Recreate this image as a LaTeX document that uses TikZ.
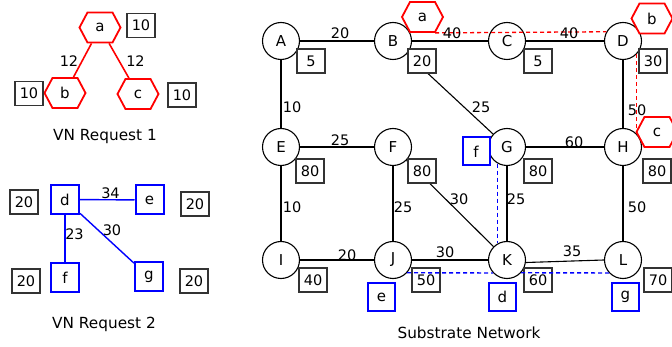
\documentclass[tikz,border=0pt]{standalone}
\usepackage{fontspec}
\setmainfont{DejaVu Sans}
\usetikzlibrary{shapes.symbols}
\begin{document}
\begin{tikzpicture}[x=1pt,y=-1pt,
  lbl/.style={inner sep=0pt, font=\fontsize{14.5}{17}\selectfont},
  ttl/.style={inner sep=0pt, anchor=base, font=\fontsize{15.3}{18}\selectfont},
  snode/.style={circle, draw, line width=1.1pt, fill=white, minimum size=37pt, inner sep=0pt, font=\fontsize{15}{17}\selectfont},
  wbox/.style={draw=black!80, line width=1.4pt, fill=white, minimum width=28pt, minimum height=24pt, inner sep=0pt, font=\fontsize{14.5}{17}\selectfont},
  vhex/.style={signal, signal to=west and east, signal pointer angle=124, draw=red, line width=1.8pt, fill=white, minimum width=41pt, minimum height=30pt, inner sep=0pt, font=\fontsize{15}{17}\selectfont},
  vbox/.style={draw=blue, line width=2pt, fill=white, minimum width=28pt, minimum height=29pt, inner sep=0pt, font=\fontsize{15}{17}\selectfont},
  sbox/.style={vbox, minimum width=27pt, minimum height=28pt},
  link/.style={line width=1.1pt},
  rlink/.style={draw=red, line width=1.6pt},
  blink/.style={draw=blue, line width=1.4pt},
  rmap/.style={draw=red, line width=1.3pt, dash pattern=on 4pt off 3pt},
  bmap/.style={draw=blue, line width=1.4pt, dash pattern=on 4pt off 3pt}
]
\useasboundingbox[fill=white] (0,0) rectangle (672,347);

% ---------- VN Request 1 ----------
\node[vhex] (ha) at (100,27.5) {a};
\node[vhex] (hb) at (65,93) {b};
\node[vhex] (hc) at (138,94) {c};
\draw[rlink] (ha) -- (hb);
\draw[rlink] (ha) -- (hc);
\node[wbox] (wa) at (141,25.5) {10};
\node[wbox] (wb) at (29,93.5) {10};
\node[wbox] (wc) at (182,95) {10};
\node[lbl] (lab) at (69,61) {12};
\node[lbl] (lac) at (135.5,61) {12};
\node[ttl] (t1) at (105,141) {VN Request 1};

% ---------- VN Request 2 ----------
\node[vbox] (vd) at (65,199.5) {d};
\node[vbox] (ve) at (149.5,200) {e};
\node[vbox] (vf) at (65,278) {f};
\node[vbox] (vg) at (149,277) {g};
\draw[blink] (vd) -- (ve);
\draw[blink] (vd) -- (vf);
\draw[blink] (vd) -- (vg);
\node[wbox] (wd) at (24,202) {20};
\node[wbox] (we) at (195,204) {20};
\node[wbox] (wf) at (26,281) {20};
\node[wbox] (wg) at (194,281) {20};
\node[lbl] (lde) at (110.5,193) {34};
\node[lbl] (ldf) at (74.5,234.5) {23};
\node[lbl] (ldg) at (112,230) {30};
\node[ttl] (t2) at (104,329) {VN Request 2};

% ---------- Substrate network ----------
\node[snode] (A) at (281,41) {A};
\node[snode] (B) at (393,41) {B};
\node[snode] (C) at (507,41) {C};
\node[snode] (D) at (623,41) {D};
\node[snode] (E) at (281,147) {E};
\node[snode] (F) at (393,147) {F};
\node[snode] (G) at (507,147) {G};
\node[snode] (H) at (623,147) {H};
\node[snode] (I) at (281,260) {I};
\node[snode] (J) at (393,260) {J};
\node[snode] (K) at (507,260) {K};
\node[snode] (L) at (623,260) {L};

\draw[link] (A) -- (B);
\draw[link] (B) -- (C);
\draw[link] (C) -- (D);
\draw[link] (A) -- (E);
\draw[link] (E) -- (F);
\draw[link] (B) -- (G);
\draw[link] (G) -- (H);
\draw[link] (D) -- (H);
\draw[link] (E) -- (I);
\draw[link] (F) -- (J);
\draw[link] (F) -- (K);
\draw[link] (G) -- (K);
\draw[link] (H) -- (L);
\draw[link] (I) -- (J);
\draw[link] (J) -- (K);
\draw[link] ([yshift=-2.5pt]K.east) -- (L.west);

\node[wbox] (wA) at (311,61) {5};
\node[wbox] (wB) at (422,61) {20};
\node[wbox] (wC) at (538,61) {5};
\node[wbox] (wD) at (653,61) {30};
\node[wbox] (wE) at (310,171) {80};
\node[wbox] (wF) at (422,171) {80};
\node[wbox] (wG) at (538,171) {80};
\node[wbox] (wH) at (657,171) {80};
\node[wbox] (wI) at (313,280) {40};
\node[wbox] (wJ) at (426,280) {50};
\node[wbox] (wK) at (538,280) {60};
\node[wbox] (wL) at (658,280) {70};

% mapped virtual nodes
\node[vhex] (sa) at (422.5,17) {a};
\node[vhex] (sb) at (652,18.5) {b};
\node[vhex] (sc) at (657,132) {c};
\node[sbox] (sf) at (476,151.5) {f};
\node[sbox] (se) at (381.5,297.5) {e};
\node[sbox] (sd) at (502.5,297) {d};
\node[sbox] (sg) at (625.5,297) {g};

% mapped virtual links
\draw[rmap] ([xshift=12.5pt]sa.south) -- (D.151);
\draw[rmap] (D.-45) -- (H.45);
\draw[bmap] (G.-119) -- (K.119);
\draw[bmap] (J.-42.5) -- (K.-137.5);
\draw[bmap] (K.-42.5) -- (L.-137.5);

% link labels
\node[lbl] (lAB) at (340,33) {20};
\node[lbl] (lBC) at (452,33) {40};
\node[lbl] (lCD) at (569,33) {40};
\node[lbl] (lAE) at (292,107) {10};
\node[lbl] (lEF) at (340,140) {25};
\node[lbl] (lBG) at (481,107) {25};
\node[lbl] (lGH) at (574,142) {60};
\node[lbl] (lDH) at (637,110) {50};
\node[lbl] (lEI) at (292,207) {10};
\node[lbl] (lFJ) at (403,207) {25};
\node[lbl] (lFK) at (459,199) {30};
\node[lbl] (lGK) at (516,199) {25};
\node[lbl] (lHL) at (637,207) {50};
\node[lbl] (lIJ) at (347,255) {20};
\node[lbl] (lJK) at (445,252) {30};
\node[lbl] (lKL) at (572,251) {35};

\node[ttl] (t3) at (469,338) {Substrate Network};
\end{tikzpicture}
\end{document}
